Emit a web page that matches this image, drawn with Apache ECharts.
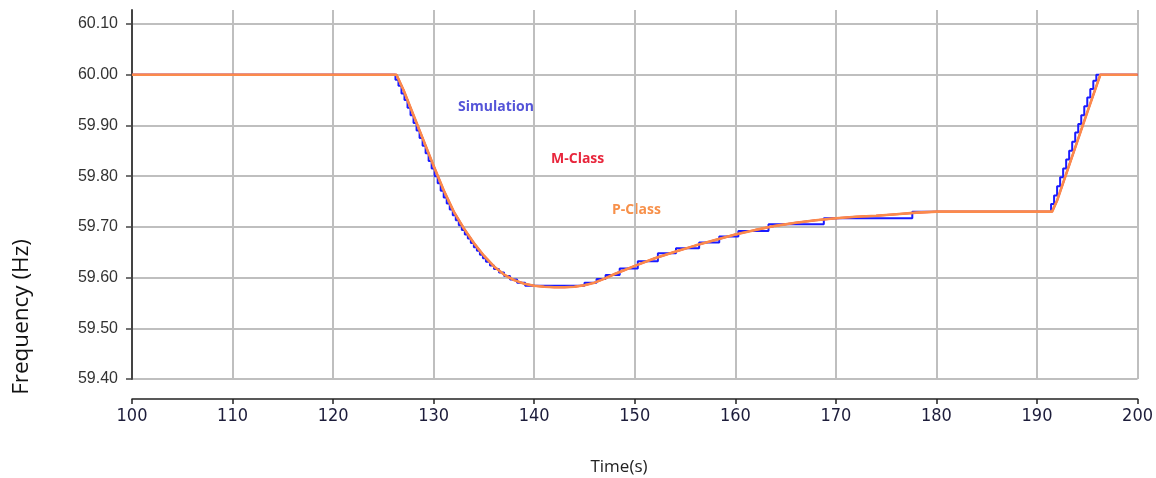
<!DOCTYPE html>
<html>
<head>
<meta charset="utf-8">
<script src="https://cdn.jsdelivr.net/npm/echarts@6/dist/echarts.min.js"></script>
<style>
  html, body { margin: 0; padding: 0; background: #fff; }
  #chart { width: 1156px; height: 478px; }
</style>
</head>
<body>
<div id="chart"></div>
<script>
// Simulation (blue, sample-and-hold)
var simTime = [100, 126.2, 126.5, 126.8, 127.1, 127.4, 127.7, 128.0, 128.3, 128.6, 128.9,
  129.2, 129.5, 129.8, 130.1, 130.4, 130.7, 131.0, 131.3, 131.6, 131.9, 132.2, 132.5,
  132.8, 133.1, 133.4, 133.7, 134.0, 134.3, 134.6, 134.9, 135.2, 135.6, 136.0, 136.5,
  137.0, 137.6, 138.3, 139.1, 145.0, 146.2, 147.1, 148.5, 150.3, 152.3, 154.1, 156.4,
  158.4, 160.3, 163.3, 168.8, 177.6, 191.4, 191.7, 192.0, 192.3, 192.6, 192.9, 193.2,
  193.5, 193.8, 194.1, 194.4, 194.7, 195.0, 195.3, 195.6, 195.9, 200];
var simFreq = [60.00, 59.990, 59.978, 59.963, 59.950, 59.935, 59.920, 59.905, 59.890, 59.875, 59.860,
  59.845, 59.830, 59.815, 59.800, 59.786, 59.771, 59.758, 59.746, 59.734, 59.723, 59.713, 59.703,
  59.694, 59.685, 59.677, 59.668, 59.660, 59.653, 59.645, 59.638, 59.631, 59.624, 59.617, 59.610,
  59.603, 59.596, 59.590, 59.584, 59.590, 59.597, 59.605, 59.618, 59.632, 59.648, 59.658, 59.669,
  59.681, 59.692, 59.705, 59.717, 59.730, 59.745, 59.762, 59.780, 59.798, 59.815, 59.833, 59.850,
  59.868, 59.886, 59.903, 59.920, 59.938, 59.955, 59.972, 59.988, 60.00, 60.00];

// P-Class (orange) - M-Class (red) lies underneath it
var pTime = [100, 126.3, 127, 128, 129, 130, 131, 132, 133, 134, 135, 136, 137, 138, 139, 140,
  141, 142, 143, 144, 145, 146, 147, 148, 149, 150, 152, 154, 156, 158, 160, 162, 164, 166,
  168, 170, 172, 174, 176, 178, 180, 191.5, 192, 193, 194, 195, 196, 196.3, 200];
var pFreq = [60.00, 60.00, 59.97, 59.92, 59.87, 59.82, 59.772, 59.73, 59.697, 59.668, 59.643,
  59.622, 59.606, 59.595, 59.588, 59.584, 59.582, 59.581, 59.581, 59.582, 59.585, 59.59, 59.598,
  59.607, 59.615, 59.623, 59.638, 59.651, 59.663, 59.674, 59.685, 59.694, 59.702, 59.708, 59.713,
  59.717, 59.72, 59.722, 59.725, 59.728, 59.73, 59.73, 59.752, 59.81, 59.868, 59.926, 59.983,
  60.00, 60.00];

var yTicks = [59.4, 59.5, 59.6, 59.7, 59.8, 59.9, 60.0, 60.1];
var seriesNames = ['Simulation', 'M-Class', 'P-Class'];

function pairs(xs, ys) {
  var out = [];
  for (var i = 0; i < xs.length; i++) out.push([xs[i], ys[i]]);
  return out;
}

var myChart = echarts.init(document.getElementById('chart'), null, {renderer: 'canvas'});

var gridGray = '#bfbfbf';
var yLineColors = [];
for (var i = 0; i < yTicks.length; i++) yLineColors.push(gridGray);
yLineColors.push('rgba(0,0,0,0)'); // extent tick above 60.10

var option = {
  animation: false,
  grid: { left: 132, right: 12, top: 10, bottom: 99 },
  xAxis: {
    type: 'value',
    min: 100, max: 200, interval: 10,
    offset: 20,
    axisLine: { show: true, lineStyle: { color: '#222', width: 1.5 } },
    axisTick: { show: true, length: 5, lineStyle: { color: '#222', width: 1.5 } },
    axisLabel: {
      margin: 8,
      color: '#1c1c3a',
      fontFamily: "'Liberation Sans Narrow', 'DejaVu Sans Condensed', 'Liberation Sans', sans-serif",
      fontSize: 18
    },
    splitLine: { show: true, lineStyle: { color: gridGray, width: 2 } }
  },
  yAxis: {
    type: 'value',
    min: 59.4, max: 60.1276, interval: 0.1,
    axisLine: { show: true, lineStyle: { color: '#444', width: 2 } },
    axisTick: { show: true, length: 6, customValues: yTicks, lineStyle: { color: '#444', width: 1.5 } },
    axisLabel: {
      margin: 14,
      customValues: yTicks,
      color: '#333',
      fontFamily: "'Liberation Sans', Arial, sans-serif",
      fontSize: 16,
      formatter: function (v) { return v.toFixed(2); }
    },
    splitLine: { show: true, lineStyle: { color: yLineColors, width: 2 } }
  },
  graphic: [
    { type: 'text', x: 22, y: 317, rotation: Math.PI / 2,
      style: { text: 'Frequency (Hz)', fill: '#111', font: "22.5px 'Open Sans', sans-serif",
        align: 'center', verticalAlign: 'middle' } },
    { type: 'text', x: 619, y: 467,
      style: { text: 'Time(s)', fill: '#222', font: "17px 'Open Sans', sans-serif",
        align: 'center', verticalAlign: 'middle' } },
    { type: 'text', x: 458, y: 107,
      style: { text: seriesNames[0], fill: '#5454d8', font: "bold 14px 'Open Sans', sans-serif",
        align: 'left', verticalAlign: 'middle' } },
    { type: 'text', x: 551, y: 159,
      style: { text: seriesNames[1], fill: '#e8263c', font: "bold 14px 'Open Sans', sans-serif",
        align: 'left', verticalAlign: 'middle' } },
    { type: 'text', x: 612, y: 210,
      style: { text: seriesNames[2], fill: '#f7904a', font: "bold 14px 'Open Sans', sans-serif",
        align: 'left', verticalAlign: 'middle' } }
  ],
  series: [
    {
      name: seriesNames[0], type: 'line', step: 'end',
      data: pairs(simTime, simFreq),
      showSymbol: false, lineStyle: { color: '#1a1aff', width: 2 }, z: 3
    },
    {
      name: seriesNames[1], type: 'line',
      data: pairs(pTime, pFreq),
      showSymbol: false, lineStyle: { color: '#e8263c', width: 2 }, z: 4
    },
    {
      name: seriesNames[2], type: 'line',
      data: pairs(pTime, pFreq),
      showSymbol: false, lineStyle: { color: '#fb8a4c', width: 2.6 }, z: 5
    }
  ]
};

myChart.setOption(option);
</script>
</body>
</html>
